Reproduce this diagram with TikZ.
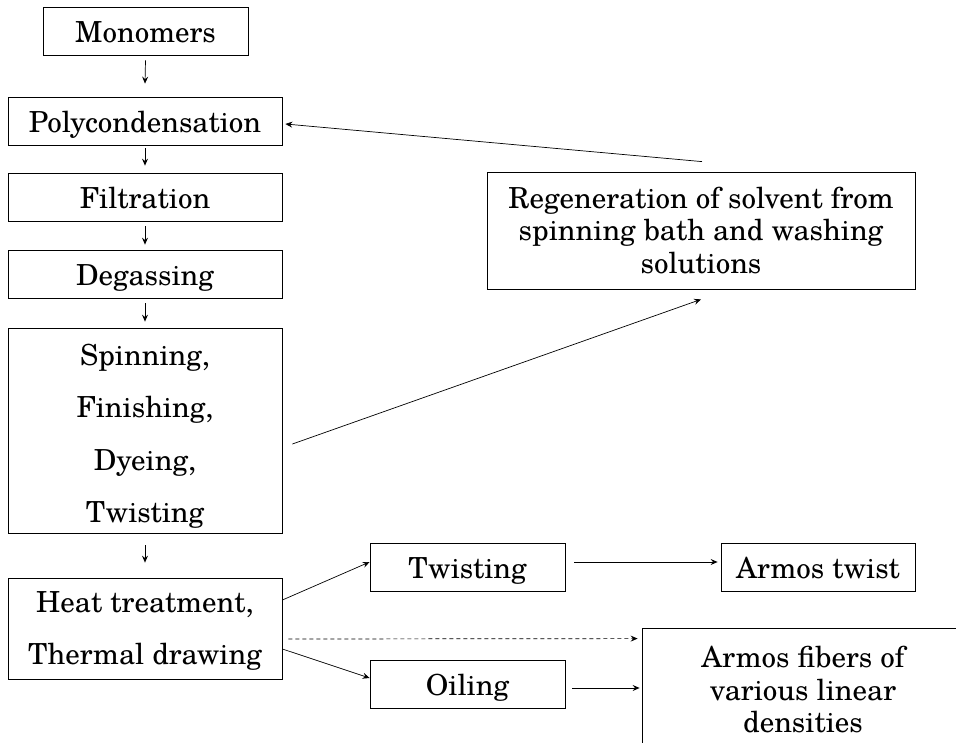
\documentclass[tikz,border=0pt]{standalone}
\usepackage{fontspec}
\setmainfont{TeX Gyre Schola}
\usetikzlibrary{arrows.meta}
\begin{document}
\begin{tikzpicture}[x=1pt,y=-1pt,
  box/.style={draw, line width=0.8pt, inner sep=0pt, align=center, font=\fontsize{29}{32.5}\selectfont},
  one/.style={box, text height=22pt, text depth=0pt},
  tall/.style={box, font=\fontsize{29}{52.5}\selectfont},
  arr/.style={line width=0.7pt, -{Stealth[length=7pt,width=6pt,inset=2.5pt]}},
  dsh/.style={arr, dashed, dash pattern=on 4pt off 3pt}]
\useasboundingbox (0,0) rectangle (956,742);
\clip (0,0) rectangle (956,742);
\node[one, minimum width=205pt, minimum height=48pt] (mono) at (145.5,31) {Monomers};
\node[one, minimum width=274pt, minimum height=48pt] (poly) at (145,121) {Polycondensation};
\node[one, minimum width=274pt, minimum height=48pt] (filt) at (145,197) {Filtration};
\node[one, minimum width=274pt, minimum height=48pt] (degas) at (145,274) {Degassing};
\node[tall, minimum width=274pt, minimum height=205pt] (spin) at (145,430.5) {\rule{0pt}{33pt}Spinning,\\Finishing,\\Dyeing,\\Twisting};
\node[tall, minimum width=274pt, minimum height=101pt] (heat) at (145,628.5) {\rule{0pt}{26pt}Heat treatment,\\Thermal drawing};
\node[one, minimum width=195pt, minimum height=48pt] (twist) at (467.5,567) {Twisting};
\node[one, minimum width=195pt, minimum height=48pt] (oil) at (467.5,684) {Oiling};
\node[one, minimum width=194pt, minimum height=48pt] (armt) at (818,567) {Armos twist};
\node[box, minimum width=428pt, minimum height=117pt] (regen) at (701,230.5) {Regeneration of solvent from\\spinning bath and washing\\solutions};
\node[box, minimum width=322pt, minimum height=124pt] (fib) at (803,690) {Armos fibers of\\various linear\\densities};
\draw[arr] ([yshift=-5pt]mono.south) -- ([yshift=13pt]poly.north);
\draw[arr] ([yshift=-3pt]poly.south) -- ([yshift=7pt]filt.north);
\draw[arr] ([yshift=-5pt]filt.south) -- ([yshift=5pt]degas.north);
\draw[arr] ([yshift=-5pt]degas.south) -- ([yshift=6pt]spin.north);
\draw[arr] ([yshift=-12pt]spin.south) -- ([yshift=15pt]heat.north);
\draw[arr] ([xshift=1pt,yshift=10pt]regen.north) -- ([xshift=3pt,yshift=-3pt]poly.east);
\draw[arr] ([xshift=10pt,yshift=-13.5pt]spin.east) -- ([yshift=-10pt]regen.south);
\draw[arr] ([yshift=28.5pt]heat.east) -- ([yshift=5pt]twist.west);
\draw[arr] ([yshift=-20.5pt]heat.east) -- ([yshift=6pt]oil.west);
\draw[dsh] ([xshift=6pt,yshift=-10.5pt]heat.east) -- ([xshift=-4pt,yshift=-11pt]fib.north west);
\draw[arr] ([xshift=9pt,yshift=5pt]twist.east) -- ([xshift=-3pt,yshift=5pt]armt.west);
\draw[arr] ([xshift=7pt,yshift=-4pt]oil.east) -- ([xshift=-2pt,yshift=2pt]fib.west);
\end{tikzpicture}
\end{document}
